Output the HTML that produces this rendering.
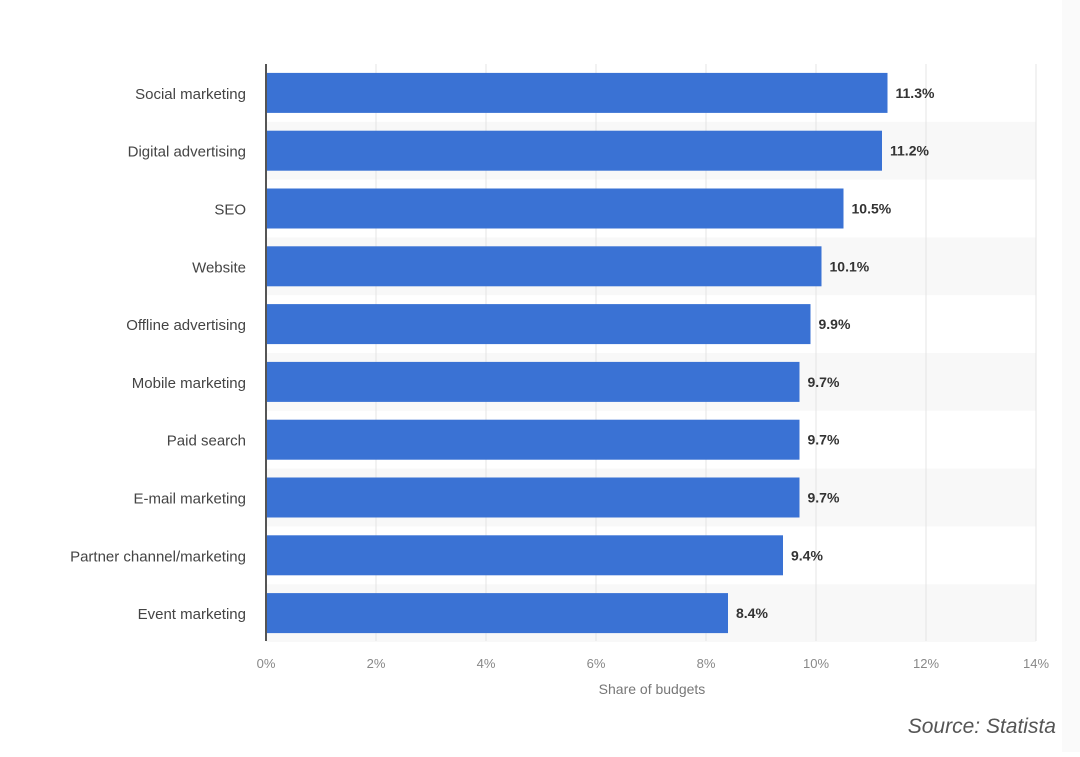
<!DOCTYPE html>
<html><head><meta charset="utf-8"><style>
body{margin:0;background:#fff;width:1080px;height:752px;overflow:hidden;font-family:"Liberation Sans",sans-serif;}
</style></head><body>
<svg width="1080" height="752">
<rect x="1062" y="0" width="18" height="752" fill="#fafafa"/>
<g id="stripes"></g><g id="grid"></g><g id="bars"></g><g id="labels"></g>
<line x1="266" y1="64" x2="266" y2="641" stroke="#555" stroke-width="2"/>
<text x="652" y="694" font-size="14" fill="#777" text-anchor="middle">Share of budgets</text>
<text x="1056" y="733" font-size="21" fill="#555" font-style="italic" text-anchor="end">Source: Statista</text>
</svg>
<script>
const categories=["Social marketing","Digital advertising","SEO","Website","Offline advertising","Mobile marketing","Paid search","E-mail marketing","Partner channel/marketing","Event marketing"];
const values=[11.3,11.2,10.5,10.1,9.9,9.7,9.7,9.7,9.4,8.4];
const valueLabels=["11.3%","11.2%","10.5%","10.1%","9.9%","9.7%","9.7%","9.7%","9.4%","8.4%"];
const ticks=[0,2,4,6,8,10,12,14];
const tickLabels=["0%","2%","4%","6%","8%","10%","12%","14%"];
const NS="http://www.w3.org/2000/svg";
const x0=266,pxPer=55,plotTop=64,rowH=57.8,barH=40;
const xs=v=>x0+v*pxPer;
const ys=i=>plotTop+i*rowH;
function mk(t,a,p){const e=document.createElementNS(NS,t);for(const k in a)e.setAttribute(k,a[k]);p.appendChild(e);return e;}
const st=document.getElementById('stripes'),gr=document.getElementById('grid'),bs=document.getElementById('bars'),lb=document.getElementById('labels');
categories.forEach((c,i)=>{
 if(i%2===1){const r=mk('rect',{x:x0,y:ys(i),width:xs(14)-x0,height:rowH,fill:'#f8f8f8'},st);
 
 }
});
ticks.forEach((t,i)=>{
 if(t>0){const l=mk('line',{x1:xs(t),y1:plotTop,x2:xs(t),y2:641,stroke:'#e4e4e4','stroke-width':1},gr);
 
 }
 const tx=mk('text',{x:xs(t),y:668,'font-size':13,fill:'#888','text-anchor':'middle'},gr);
 tx.textContent=tickLabels[i];
 
 
});
categories.forEach((c,i)=>{
 const cy=ys(i)+rowH/2;
 const b=mk('rect',{x:x0,y:cy-barH/2,width:xs(values[i])-x0,height:barH,fill:'#3a72d4'},bs);
 
 
 const v=mk('text',{x:xs(values[i])+8,y:cy+5,'font-size':14,'font-weight':'bold',fill:'#333'},lb);
 v.textContent=valueLabels[i];
 
 
 const t=mk('text',{x:246,y:cy+6,'font-size':15,fill:'#444','text-anchor':'end'},lb);
 t.textContent=c;
 
 
});
</script>
</body></html>
